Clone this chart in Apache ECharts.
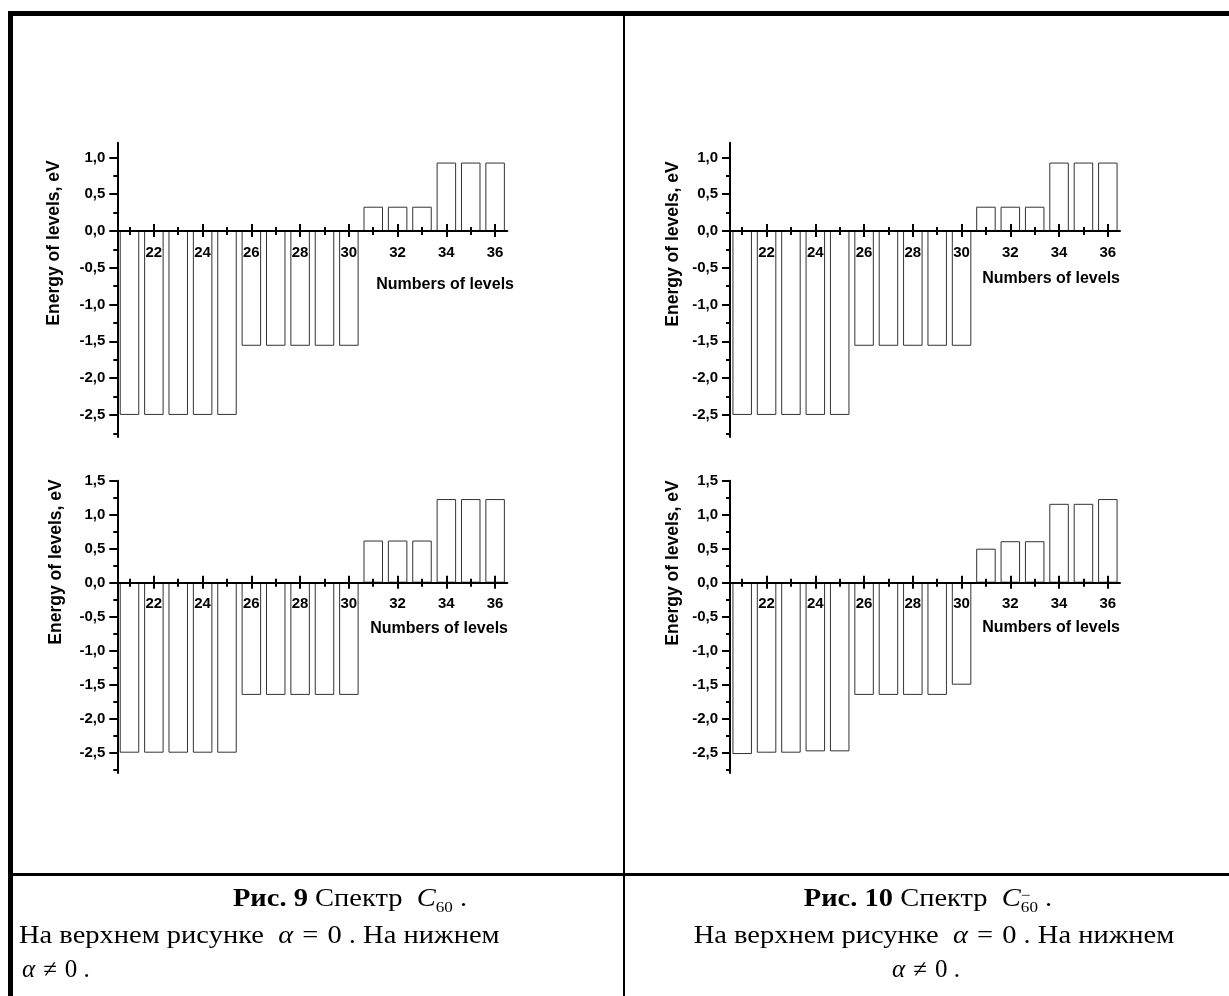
<!DOCTYPE html>
<html>
<head>
<meta charset="utf-8">
<script src="https://cdn.jsdelivr.net/npm/echarts@6/dist/echarts.min.js"></script>
<style>
  html, body { margin: 0; padding: 0; background: #fff; }
  #page { position: relative; width: 1229px; height: 996px; overflow: hidden; background: #fff; }
  .chart { position: absolute; left: 0; top: 0; width: 1229px; height: 996px; }
  .rule { position: absolute; background: #000; }
  .cap {
    position: absolute; font-family: "Liberation Serif", "Times New Roman", serif;
    font-size: 25px; line-height: 25px; color: #000; white-space: nowrap;
  }
  .cap i { font-style: italic; }
  .wide { transform: scaleX(1.14); transform-origin: 50% 50%; }
  .wide.from-left { transform-origin: 0 50%; }
  .rel { margin: 0 8px; }
  .sub { font-size: 15px; position: relative; top: 6px; }
  .stack { display: inline-block; vertical-align: -6px; font-size: 15px; line-height: 12px; text-align: left; }
  .stack span { display: block; }
</style>
</head>
<body>
<div id="page">
  <!-- table frame -->
  <div class="rule" style="left:8px;top:11px;width:1221px;height:5px"></div>
  <div class="rule" style="left:8px;top:11px;width:5px;height:985px"></div>
  <div class="rule" style="left:623px;top:16px;width:2px;height:980px"></div>
  <div class="rule" style="left:13px;top:873px;width:1216px;height:3px"></div>

  <div id="c1" class="chart"></div>
  <div id="c2" class="chart"></div>
  <div id="c3" class="chart"></div>
  <div id="c4" class="chart"></div>

  <!-- captions -->
  <div class="cap wide" style="left:50px;width:600px;text-align:center;top:885px"><b>Рис. 9</b> Спектр &nbsp;<i>C</i><span class="sub">60</span> .</div>
  <div class="cap wide from-left" style="left:19px;top:922px">На верхнем рисунке &nbsp;<i>α</i><span class="rel">=</span>0 . На нижнем</div>
  <div class="cap" style="left:22px;top:956px"><i>α</i><span class="rel">≠</span>0 .</div>

  <div class="cap wide" style="left:628px;width:600px;text-align:center;top:885px"><b>Рис. 10</b> Спектр &nbsp;<i>C</i><span class="stack"><span>&#8722;</span><span>60</span></span> .</div>
  <div class="cap wide" style="left:634px;width:600px;text-align:center;top:922px">На верхнем рисунке &nbsp;<i>α</i><span class="rel">=</span>0 . На нижнем</div>
  <div class="cap" style="left:626px;width:600px;text-align:center;top:956px"><i>α</i><span class="rel">≠</span>0 .</div>
</div>

<script>
// Level numbers on the horizontal axis
const levels = ['21', '22', '23', '24', '25', '26', '27', '28', '29', '30', '31', '32', '33', '34', '35', '36'];

// Energies of levels, eV
const c60Alpha0 = [-2.5, -2.5, -2.5, -2.5, -2.5, -1.56, -1.56, -1.56, -1.56, -1.56, 0.33, 0.33, 0.33, 0.93, 0.93, 0.93];
const c60Alpha = [-2.5, -2.5, -2.5, -2.5, -2.5, -1.65, -1.65, -1.65, -1.65, -1.65, 0.62, 0.62, 0.62, 1.23, 1.23, 1.23];
const c60AnionAlpha0 = [-2.5, -2.5, -2.5, -2.5, -2.5, -1.56, -1.56, -1.56, -1.56, -1.56, 0.33, 0.33, 0.33, 0.93, 0.93, 0.93];
const c60AnionAlpha = [-2.52, -2.5, -2.5, -2.48, -2.48, -1.65, -1.65, -1.65, -1.65, -1.5, 0.5, 0.61, 0.61, 1.16, 1.16, 1.23];

// Energy axis ticks
const upperMajorTicks = [-2.5, -2, -1.5, -1, -0.5, 0, 0.5, 1];
const upperMinorTicks = [-2.75, -2.25, -1.75, -1.25, -0.75, -0.25, 0.25, 0.75];
const lowerMajorTicks = [-2.5, -2, -1.5, -1, -0.5, 0, 0.5, 1, 1.5];
const lowerMinorTicks = [-2.75, -2.25, -1.75, -1.25, -0.75, -0.25, 0.25, 0.75, 1.25];
const upperRange = [-2.8, 1.2];
const lowerRange = [-2.8, 1.5];

const X_NAME = 'Numbers of levels';
const Y_NAME = 'Energy of levels, eV';

const SANS = '"Liberation Sans", Arial, sans-serif';
const INK = '#000';

function panelOption(p) {
  const tickLine = { color: INK, width: 2 };
  const even = (i, v) => Number(v) % 2 === 0;
  const odd = (i, v) => Number(v) % 2 === 1;
  // The level axis runs along energy 0: a second grid ends exactly at that height.
  const zeroOffset = p.height * p.range[1] / (p.range[1] - p.range[0]);
  const levelAxis = {
    type: 'category', data: levels, gridIndex: 1, position: 'bottom', boundaryGap: true, z: 5,
    axisLine: { show: false, onZero: false },
    axisLabel: { show: false },
    splitLine: { show: false }
  };
  const comma = v => Number(v).toFixed(1).replace('.', ',');
  return {
    animation: false,
    backgroundColor: 'transparent',
    grid: [
      { left: p.left, top: p.top, width: p.width, height: p.height, containLabel: false, outerBoundsMode: 'none' },
      { left: p.left, top: p.top, width: p.width, height: zeroOffset, containLabel: false, outerBoundsMode: 'none' }
    ],
    xAxis: [
      // bars
      {
        type: 'category', data: levels, gridIndex: 0, position: 'bottom', boundaryGap: true,
        axisLine: { show: false, onZero: false }, axisTick: { show: false }, axisLabel: { show: false },
        splitLine: { show: false }
      },
      Object.assign({}, levelAxis, {
        axisLine: { show: true, onZero: false, lineStyle: { color: INK, width: 2 } },
        axisTick: { show: true, alignWithLabel: true, interval: even, inside: true, length: 7, lineStyle: tickLine },
        axisLabel: {
          show: true, interval: even, margin: 14, color: INK,
          fontFamily: SANS, fontWeight: 'bold', fontSize: 15
        }
      }),
      Object.assign({}, levelAxis, {
        axisTick: { show: true, alignWithLabel: true, interval: even, inside: false, length: 6, lineStyle: tickLine }
      }),
      Object.assign({}, levelAxis, {
        axisTick: { show: true, alignWithLabel: true, interval: odd, inside: true, length: 4, lineStyle: tickLine }
      }),
      Object.assign({}, levelAxis, {
        axisTick: { show: true, alignWithLabel: true, interval: odd, inside: false, length: 4, lineStyle: tickLine }
      })
    ],
    yAxis: [
      {
        type: 'value', gridIndex: 0, position: 'left', min: p.range[0], max: p.range[1],
        axisLine: { show: true, onZero: false, lineStyle: { color: INK, width: 2 } },
        axisTick: { show: true, customValues: p.major, inside: false, length: 8, lineStyle: tickLine },
        axisLabel: {
          show: true, customValues: p.major, formatter: comma, margin: 12, color: INK,
          fontFamily: SANS, fontWeight: 'bold', fontSize: 15
        },
        splitLine: { show: false }
      },
      {
        type: 'value', gridIndex: 0, position: 'left', min: p.range[0], max: p.range[1],
        axisLine: { show: false, onZero: false },
        axisTick: { show: true, customValues: p.minor, inside: false, length: 4, lineStyle: tickLine },
        axisLabel: { show: false },
        splitLine: { show: false }
      },
      {
        type: 'value', gridIndex: 1, position: 'left', show: false,
        axisLine: { show: false, onZero: false }, axisTick: { show: false }, axisLabel: { show: false },
        splitLine: { show: false }
      }
    ],
    series: [{
      type: 'bar', data: p.values, xAxisIndex: 0, yAxisIndex: 0,
      barCategoryGap: '20%', silent: true, z: 2,
      itemStyle: { color: '#fff', borderColor: '#333', borderWidth: 1 }
    }],
    graphic: [
      {
        type: 'text', x: p.yName[0], y: p.yName[1], rotation: Math.PI / 2, z: 10,
        style: {
          text: Y_NAME, fill: INK, fontFamily: SANS, fontWeight: 'bold', fontSize: 17.5,
          align: 'center', verticalAlign: 'middle'
        }
      },
      {
        type: 'text', x: p.xName[0], y: p.xName[1], z: 10,
        style: {
          text: X_NAME, fill: INK, fontFamily: SANS, fontWeight: 'bold', fontSize: 16,
          align: 'right', verticalAlign: 'middle'
        }
      }
    ]
  };
}

const panels = [
  { el: 'c1', values: c60Alpha0, range: upperRange, major: upperMajorTicks, minor: upperMinorTicks,
    left: 117.3, top: 142.7, width: 390, height: 294.3, yName: [54, 243], xName: [514, 285] },
  { el: 'c2', values: c60AnionAlpha0, range: upperRange, major: upperMajorTicks, minor: upperMinorTicks,
    left: 730, top: 142.7, width: 390, height: 294.3, yName: [673, 244], xName: [1120, 279] },
  { el: 'c3', values: c60Alpha, range: lowerRange, major: lowerMajorTicks, minor: lowerMinorTicks,
    left: 117.3, top: 480.7, width: 390, height: 292.4, yName: [56, 562], xName: [508, 629] },
  { el: 'c4', values: c60AnionAlpha, range: lowerRange, major: lowerMajorTicks, minor: lowerMinorTicks,
    left: 730, top: 480.7, width: 390, height: 292.4, yName: [673, 563], xName: [1120, 628] }
];

panels.forEach(p => {
  const chart = echarts.init(document.getElementById(p.el), null, { renderer: 'canvas', width: 1229, height: 996 });
  chart.setOption(panelOption(p));
});
</script>
</body>
</html>
